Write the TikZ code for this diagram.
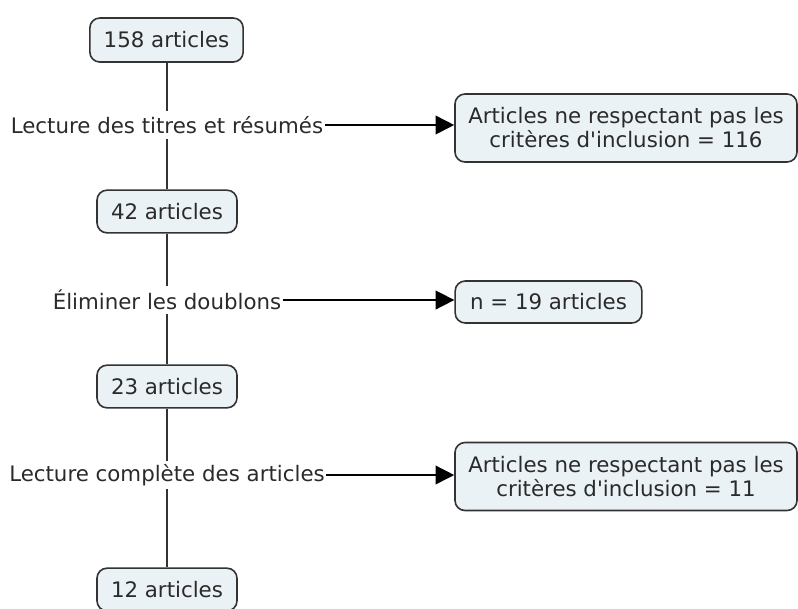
\documentclass[tikz,border=0pt]{standalone}
\usepackage{fontspec}
\setmainfont{DejaVu Sans}
\usetikzlibrary{arrows.meta}
\definecolor{boxfill}{HTML}{EBF2F5}
\definecolor{boxline}{HTML}{333333}
\definecolor{txt}{HTML}{2A2A2A}
\begin{document}
\begin{tikzpicture}[x=0.75pt,y=-0.75pt,
  box/.style={draw=boxline,fill=boxfill,rounded corners=7.5pt,line width=1.2pt,
    text=txt,font=\fontsize{16}{18}\selectfont,align=center,inner sep=0pt},
  lab/.style={text=txt,font=\fontsize{16}{18}\selectfont,inner xsep=1pt,inner ysep=0pt,minimum height=21pt},
  conn/.style={draw=boxline,line width=1.2pt},
  arr/.style={draw=black,line width=1.2pt,-{Triangle[length=14pt,width=14pt]}}]
\useasboundingbox (0,0) rectangle (798,608);
\clip (0,0) rectangle (798,608);
\node[box,minimum width=115pt,minimum height=33pt] (a158) at (166.5,40) {158 articles};
\node[box,minimum width=105pt,minimum height=32pt] (a42) at (167,211.5) {42 articles};
\node[box,minimum width=105pt,minimum height=32pt] (a23) at (167,386.5) {23 articles};
\node[box,minimum width=105pt,minimum height=32pt] (a12) at (167,589.5) {12 articles};
\node[lab] (l1) at (167,125) {Lecture des titres et résumés};
\node[lab] (l2) at (167,300) {Éliminer les doublons};
\node[lab] (l3) at (167,475) {Lecture complète des articles};
\node[box,minimum width=256.5pt,minimum height=51pt] (r1) at (626,128) {Articles ne respectant pas les\\critères d\textquotesingle inclusion = 116};
\node[box,minimum width=140pt,minimum height=31.5pt] (r2) at (548.5,302) {n = 19 articles};
\node[box,minimum width=256.5pt,minimum height=51pt] (r3) at (626,476.5) {Articles ne respectant pas les\\critères d\textquotesingle inclusion = 11};
\draw[conn] (a158.south -| l1.north) -- (l1.north);
\draw[conn] (l1) -- (a42);
\draw[conn] (a42) -- (l2);
\draw[conn] (l2) -- (a23);
\draw[conn] (a23) -- (l3);
\draw[conn] (l3) -- (a12);
\draw[arr] (l1.east) -- (l1.east -| r1.west);
\draw[arr] (l2.east) -- (l2.east -| r2.west);
\draw[arr] (l3.east) -- (l3.east -| r3.west);
\end{tikzpicture}
\end{document}
